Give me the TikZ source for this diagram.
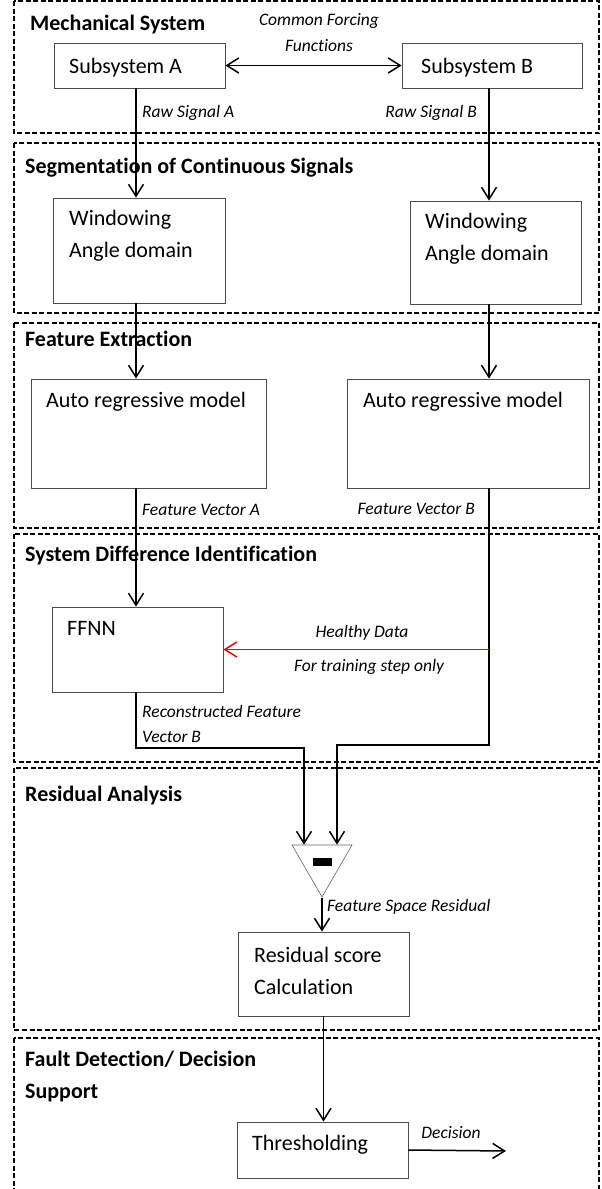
\documentclass[tikz,border=0pt]{standalone}
\usepackage{fontspec}
\setmainfont{Carlito}[Ligatures={NoCommon}]
\usetikzlibrary{arrows.meta,shapes.geometric}
\begin{document}
\begin{tikzpicture}[x=1pt,y=-1pt,
  >={Straight Barb[length=12pt,width=15pt]},
  section/.style={draw, line width=1.1pt, dash pattern=on 5pt off 2.5pt},
  blk/.style={draw=black!70, line width=0.8pt, rectangle, inner sep=0pt},
  ttl/.style={anchor=west, inner sep=0pt, align=left, font=\bfseries\fontsize{22}{32}\selectfont},
  txt/.style={anchor=west, inner sep=0pt, align=left, font=\fontsize{22}{32}\selectfont},
  lbl/.style={inner sep=0pt, align=left, font=\itshape\fontsize{17.5}{25.5}\selectfont},
  flow/.style={line width=1.5pt}]
\useasboundingbox (0,0) rectangle (602,1189);
\draw[section] (14,1) rectangle (599,133);
\draw[section] (14,143) rectangle (599,313);
\draw[section] (14,323) rectangle (599,528);
\draw[section] (14,534) rectangle (599,762);
\draw[section] (14,768) rectangle (599,1030);
\draw[section] (14,1038) rectangle (599,1200);
\node[ttl] (t1) at (30,25) {Mechanical System};
\node[ttl] (t2) at (25,168) {Segmentation of Continuous Signals};
\node[ttl] (t3) at (25,339) {Feature Extraction};
\node[ttl] (t4) at (25,556) {System Difference Identification};
\node[ttl] (t5) at (25,795) {Residual Analysis};
\node[ttl] (t6) at (25,1076) {Fault Detection/ Decision\\Support};
\node[blk, minimum width=171pt, minimum height=45pt] (subA) at (139.5,65.5) {};
\node[blk, minimum width=180pt, minimum height=45pt] (subB) at (492,65.5) {};
\node[blk, minimum width=172pt, minimum height=105pt] (winA) at (139,250.5) {};
\node[blk, minimum width=171pt, minimum height=103pt] (winB) at (495.5,252.5) {};
\node[blk, minimum width=235pt, minimum height=109pt] (arA) at (148.5,433.5) {};
\node[blk, minimum width=242pt, minimum height=109pt] (arB) at (468,433.5) {};
\node[blk, minimum width=171pt, minimum height=85pt] (ffnn) at (137.5,649.5) {};
\node[blk, minimum width=171pt, minimum height=84pt] (resid) at (323.5,974) {};
\node[blk, minimum width=171pt, minimum height=56pt] (thresh) at (322.5,1150) {};
\node[regular polygon, regular polygon sides=3, shape border rotate=180, minimum size=69.3pt,
  draw=black!60, line width=0.6pt, inner sep=0pt] (minus) at (322,862.3) {\rule{19pt}{8pt}};
\node[txt] (subAtxt) at (69,68) {Subsystem A};
\node[txt] (subBtxt) at (421,68) {Subsystem B};
\node[txt] (winAtxt) at (69,236) {Windowing\\Angle domain};
\node[txt] (winBtxt) at (425,239) {Windowing\\Angle domain};
\node[txt] (arAtxt) at (46,402) {Auto regressive model};
\node[txt] (arBtxt) at (363,402) {Auto regressive model};
\node[txt] (ffnntxt) at (67,628) {FFNN};
\node[txt] (residtxt) at (254,971) {Residual score\\Calculation};
\node[txt] (threshtxt) at (252,1145) {Thresholding};
\node[lbl, align=center] (forcing) at (319,32.5) {Common Forcing\\Functions};
\node[lbl, anchor=west] (rawA) at (142,113) {Raw Signal A};
\node[lbl, anchor=east] (rawB) at (477,113) {Raw Signal B};
\node[lbl, anchor=west] (fvA) at (142,510) {Feature Vector A};
\node[lbl, anchor=east] (fvB) at (475,509) {Feature Vector B};
\node[lbl] (healthy) at (362,633) {Healthy Data};
\node[lbl] (training) at (369,667) {For training step only};
\node[lbl, anchor=west] (recon) at (142,724) {Reconstructed Feature\\Vector B};
\node[lbl, anchor=west] (fsr) at (327,907) {Feature Space Residual};
\node[lbl] (decision) at (451,1133) {Decision};
\coordinate (colA) at (136,0);
\coordinate (colB) at (489,0);
\coordinate (bendA) at (304,748);
\coordinate (bendB) at (337,745);
\coordinate (out) at (506,1151);
\draw[flow,<->](subA) -- (subB);
\draw[flow,->](subA.south -| colA) -- (winA.north -| colA);
\draw[flow,->](subB.south -| colB) -- (winB.north -| colB);
\draw[flow,->](winA.south -| colA) -- (arA.north -| colA);
\draw[flow,->](winB.south -| colB) -- (arB.north -| colB);
\draw[flow,->](arA.south -| colA) -- (ffnn.north -| colA);
\draw[flow,->](arB.south -| colB) |- (bendB) -- (bendB |- minus.north);
\draw[flow,->,red](ffnn.east -| colB) -- (ffnn.east);
\draw[flow,->](ffnn.south -| colA) |- (bendA) -- (bendA |- minus.north);
\draw[flow,->](minus.south) -- (minus.south |- resid.north);
\draw[flow,->](resid.south) -- (resid.south |- thresh.north);
\draw[flow,->](thresh.east) -- (out);
\end{tikzpicture}
\end{document}
